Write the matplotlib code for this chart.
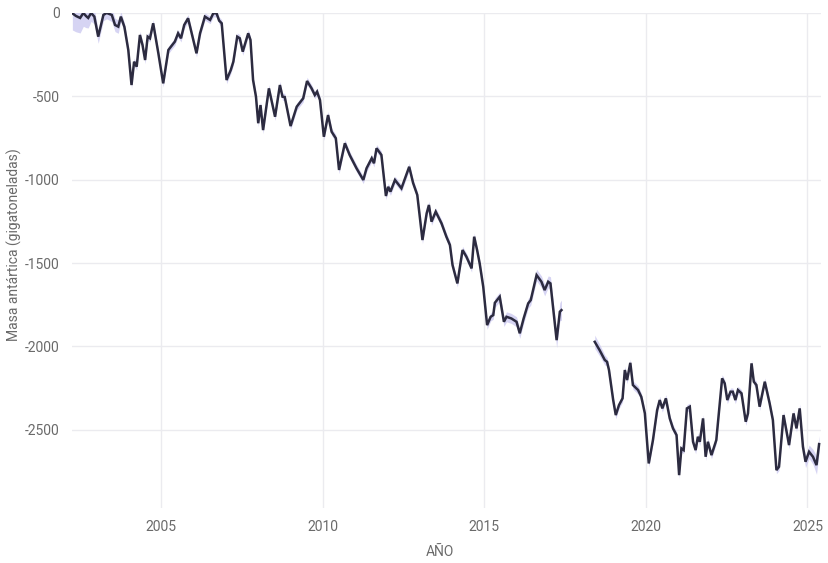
import matplotlib
matplotlib.use("Agg")
import numpy as np
import matplotlib.pyplot as plt

# GRACE / GRACE-FO record, first mission (2002 - 2017)
years_grace = [
    2002.26, 2002.37, 2002.50, 2002.60, 2002.68, 2002.75, 2002.84, 2002.94, 2003.06, 2003.22,
    2003.32, 2003.48, 2003.58, 2003.68, 2003.76, 2003.87, 2003.99, 2004.09, 2004.17, 2004.25,
    2004.35, 2004.43, 2004.51, 2004.59, 2004.66, 2004.76, 2004.92, 2005.07, 2005.23, 2005.43,
    2005.53, 2005.62, 2005.72, 2005.84, 2005.95, 2006.10, 2006.21, 2006.36, 2006.52, 2006.62,
    2006.72, 2006.80, 2006.88, 2007.03, 2007.16, 2007.24, 2007.36, 2007.44, 2007.53, 2007.70,
    2007.77, 2007.85, 2007.94, 2008.01, 2008.08, 2008.16, 2008.34, 2008.53, 2008.68, 2008.76,
    2008.83, 2009.01, 2009.20, 2009.40, 2009.52, 2009.66, 2009.76, 2009.83, 2009.92, 2010.04,
    2010.17, 2010.28, 2010.41, 2010.51, 2010.69, 2010.84, 2011.05, 2011.26, 2011.36, 2011.52,
    2011.59, 2011.67, 2011.82, 2011.96, 2012.03, 2012.10, 2012.24, 2012.44, 2012.68, 2012.80,
    2012.93, 2013.09, 2013.22, 2013.29, 2013.37, 2013.50, 2013.68, 2013.83, 2013.94, 2014.02,
    2014.17, 2014.33, 2014.45, 2014.61, 2014.69, 2014.78, 2014.86, 2014.97, 2015.09, 2015.20,
    2015.28, 2015.33, 2015.48, 2015.61, 2015.69, 2015.84, 2016.00, 2016.10, 2016.22, 2016.36,
    2016.44, 2016.62, 2016.77, 2016.87, 2016.98, 2017.05, 2017.24, 2017.34, 2017.39,
]
mass_grace = [
    -3, -19, -31, -1, -19, -31, -1, -23, -143, -13,
    -1, -13, -73, -83, -23, -85, -223, -433, -293, -323,
    -133, -193, -283, -143, -153, -63, -243, -423, -223, -173,
    -123, -153, -73, -33, -123, -243, -123, -23, -43, -3,
    -3, -47, -63, -403, -343, -293, -143, -153, -233, -123,
    -163, -403, -503, -662, -553, -703, -453, -623, -433, -503,
    -505, -679, -563, -513, -409, -453, -493, -473, -523, -743,
    -613, -713, -752, -942, -782, -853, -932, -1002, -932, -872,
    -902, -812, -852, -1098, -1043, -1072, -1002, -1052, -923, -1020,
    -1092, -1362, -1202, -1152, -1252, -1192, -1262, -1342, -1392, -1512,
    -1622, -1422, -1462, -1532, -1342, -1422, -1502, -1642, -1872, -1822,
    -1812, -1738, -1702, -1852, -1822, -1832, -1852, -1921, -1832, -1742,
    -1722, -1572, -1612, -1662, -1612, -1622, -1962, -1792, -1782,
]
unc_grace = [
    100, 95, 90, 80, 70, 60, 50, 45, 40, 35,
    35, 40, 40, 40, 30, 25, 22, 22, 22, 22,
    22, 22, 22, 22, 22, 22, 22, 22, 22, 22,
    22, 22, 22, 22, 22, 22, 22, 22, 22, 22,
    22, 22, 22, 22, 22, 22, 22, 22, 22, 22,
    22, 22, 22, 22, 22, 22, 22, 22, 22, 22,
    22, 22, 22, 22, 22, 22, 22, 22, 22, 22,
    22, 22, 22, 22, 22, 22, 22, 22, 22, 22,
    22, 22, 22, 22, 22, 22, 22, 22, 22, 22,
    22, 22, 22, 22, 22, 22, 22, 22, 22, 22,
    22, 22, 22, 22, 22, 22, 22, 25, 25, 25,
    25, 28, 28, 28, 30, 30, 30, 30, 30, 30,
    30, 35, 35, 35, 35, 40, 45, 55, 60,
]

# GRACE-FO (2018 - 2025)
years_fo = [
    2018.42, 2018.57, 2018.73, 2018.80, 2018.86, 2018.99, 2019.07, 2019.17, 2019.28, 2019.35,
    2019.42, 2019.52, 2019.60, 2019.76, 2019.86, 2019.97, 2020.09, 2020.22, 2020.35, 2020.43,
    2020.51, 2020.62, 2020.74, 2020.84, 2020.95, 2021.03, 2021.10, 2021.17, 2021.27, 2021.36,
    2021.46, 2021.54, 2021.61, 2021.67, 2021.77, 2021.85, 2021.92, 2022.03, 2022.18, 2022.36,
    2022.44, 2022.52, 2022.62, 2022.69, 2022.77, 2022.85, 2022.96, 2023.09, 2023.16, 2023.27,
    2023.34, 2023.42, 2023.52, 2023.68, 2023.83, 2023.93, 2024.04, 2024.12, 2024.26, 2024.43,
    2024.57, 2024.66, 2024.76, 2024.86, 2024.94, 2025.05, 2025.17, 2025.28, 2025.36,
]
mass_fo = [
    -1972, -2022, -2081, -2092, -2141, -2321, -2411, -2351, -2311, -2141,
    -2201, -2098, -2231, -2261, -2302, -2401, -2701, -2561, -2381, -2321,
    -2371, -2311, -2431, -2491, -2531, -2771, -2611, -2621, -2371, -2361,
    -2571, -2621, -2541, -2571, -2431, -2661, -2571, -2651, -2561, -2191,
    -2221, -2321, -2271, -2271, -2321, -2261, -2281, -2451, -2401, -2101,
    -2211, -2231, -2361, -2211, -2341, -2441, -2741, -2721, -2411, -2591,
    -2401, -2491, -2371, -2601, -2691, -2631, -2661, -2711, -2585,
]
unc_fo = [
    40, 35, 30, 25, 22, 22, 22, 22, 22, 22,
    22, 22, 25, 25, 22, 22, 22, 22, 22, 22,
    22, 22, 22, 22, 22, 22, 22, 22, 22, 22,
    22, 22, 22, 22, 22, 22, 22, 22, 22, 22,
    22, 22, 22, 22, 22, 22, 22, 22, 22, 22,
    22, 22, 22, 22, 22, 22, 22, 22, 22, 22,
    22, 22, 25, 30, 35, 40, 45, 55, 50,
]

xticks = [2005, 2010, 2015, 2020, 2025]
yticks = [0, -500, -1000, -1500, -2000, -2500]

LINE = '#2c2b40'
BAND = '#c9c6ef'
TEXT = '#6a6a6a'
GRID = '#ebebef'

plt.rcParams['font.family'] = ['Roboto', 'DejaVu Sans']
plt.rcParams['axes.unicode_minus'] = False

fig = plt.figure(figsize=(8.29, 5.63), dpi=100)
ax = fig.add_axes([0.0869, 0.0977, 0.9035, 0.8796])

for yrs, m, u in [(years_grace, mass_grace, unc_grace), (years_fo, mass_fo, unc_fo)]:
    yrs = np.array(yrs)
    m = np.array(m)
    u = np.array(u)
    ax.fill_between(yrs, m - u, m + u, color=BAND, alpha=0.75, lw=0)
    ax.plot(yrs, m, color=LINE, lw=1.8, solid_joinstyle='miter')

ax.set_xlim(2002.25, 2025.42)
ax.set_ylim(-2968, 0)
ax.set_xticks(xticks)
ax.set_yticks(yticks)
ax.set_yticklabels([str(v) for v in yticks])

ax.grid(True, color=GRID, lw=1)
ax.set_axisbelow(True)
for s in ax.spines.values():
    s.set_visible(False)
ax.tick_params(axis='both', length=0, labelsize=10, labelcolor=TEXT)
ax.tick_params(axis='x', pad=9)
ax.tick_params(axis='y', pad=9)

ax.set_ylabel('Masa antártica (gigatoneladas)', fontsize=10, color=TEXT)
ax.yaxis.set_label_coords(-0.067, 0.531)
ax.set_xlabel('AÑO', fontsize=10, color=TEXT)
ax.xaxis.set_label_coords(0.491, -0.074)

fig.savefig('out.png', dpi=100)
